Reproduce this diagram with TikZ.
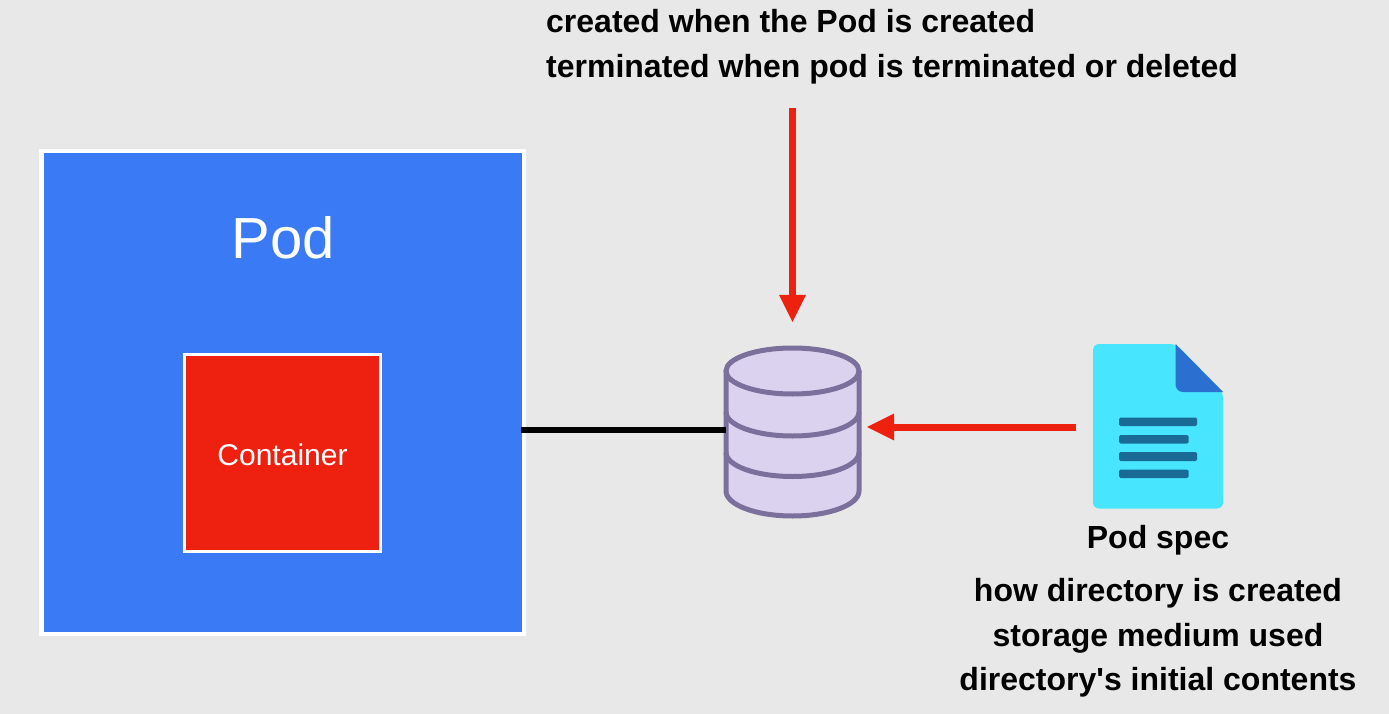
\documentclass[tikz,border=0pt]{standalone}
\usepackage{fontspec}
\setmainfont{Liberation Sans}
\newfontfamily\plainsans{Liberation Sans}
\usetikzlibrary{arrows.meta}
\definecolor{bgc}{HTML}{E8E8E8}
\definecolor{podblue}{HTML}{3B7AF5}
\definecolor{conred}{HTML}{EE2010}
\definecolor{dbfill}{HTML}{DBD2F0}
\definecolor{dbline}{HTML}{7B6F9B}
\definecolor{doccyan}{HTML}{48E5FF}
\definecolor{docfold}{HTML}{2B6FD0}
\definecolor{docline}{HTML}{1A6A96}
\tikzset{
  x=1pt,y=-1pt,
  podbox/.style={draw=white,line width=4.5pt,fill=podblue,inner sep=0pt,minimum width=482.5pt,minimum height=482.5pt},
  conbox/.style={draw=white,line width=3pt,fill=conred,inner sep=0pt,minimum width=196.5pt,minimum height=197pt,text=white,font=\fontsize{30}{34}\selectfont},
  podlabel/.style={text=white,inner sep=0pt,font=\fontsize{58}{62}\selectfont},
  caption/.style={inner sep=0pt,anchor=base west,font=\plainsans\bfseries\fontsize{32}{36}\selectfont},
  captionc/.style={inner sep=0pt,anchor=base,font=\plainsans\bfseries\fontsize{32}{36}\selectfont},
  ghost/.style={inner sep=0pt,minimum width=133pt,minimum height=170pt},
  ghostdoc/.style={inner sep=0pt,minimum width=130pt,minimum height=164pt},
  redarrow/.style={draw=conred,line width=7pt,-{Triangle[length=27pt,width=27pt,fill=conred,line width=0pt]}},
  blackline/.style={draw=black,line width=6pt},
  dbstroke/.style={draw=dbline,line width=5pt},
  docbar/.style={fill=docline,rounded corners=1.5pt},
}
\begin{document}
\begin{tikzpicture}
\useasboundingbox (0,0) rectangle (1389,714);
\fill[bgc] (0,0) rectangle (1389,714);
% Pod
\node[podbox] (pod) at (282.5,392.5) {};
\node[podlabel] (podtext) at (283,238) {Pod};
\node[conbox] (container) at (282.5,453) {\raisebox{-12pt}[0pt][0pt]{Container}};
% Cylinder
\node[ghost] (db) at (792.5,433) {};
\fill[dbfill] (726,371) -- (726,492) arc[x radius=66.5,y radius=24,start angle=180,end angle=0] -- (859,371) arc[x radius=66.5,y radius=23,start angle=0,end angle=-180] -- cycle;
\draw[dbstroke,line join=round] (726,371) -- (726,491) arc[x radius=66.5,y radius=25,start angle=180,end angle=0] -- (859,371);
\draw[dbstroke] (792.5,371) ellipse[x radius=66.5,y radius=23];
\draw[dbstroke] (726,412) arc[x radius=66.5,y radius=24,start angle=180,end angle=0];
\draw[dbstroke] (726,452.5) arc[x radius=66.5,y radius=24,start angle=180,end angle=0];
% Document
\node[ghostdoc] (doc) at (1158,426) {};
\fill[doccyan,rounded corners=6pt] (1093,344) -- (1176,344) -- (1223,392) -- (1223,508.5) -- (1093,508.5) -- cycle;
\fill[docfold] (1175.5,344) -- (1223,392) -- (1183,392) .. controls (1178.5,392) and (1175.5,388.5) .. (1175.5,384) -- cycle;
\fill[docbar] (1119,417.5) rectangle (1197,426);
\fill[docbar] (1119,435) rectangle (1188.5,443.5);
\fill[docbar] (1119,452) rectangle (1197,461);
\fill[docbar] (1119,469.5) rectangle (1188.5,478);
% Connectors
\draw[blackline] (pod.east) ++(-5,37.5) coordinate (linestart) -- (linestart -| db.west);
\coordinate (topstart) at (792.5,108);
\coordinate (sidestart) at (1076,427);
\draw[redarrow] (topstart) -- ([yshift=26]db.north);
\draw[redarrow] (sidestart) -- ([xshift=8]db.east |- sidestart);
% Texts
\node[caption] (t1) at (546,33) {created when the Pod is created};
\node[caption] (t2) at (546,78) {terminated when pod is terminated or deleted};
\node[captionc] (s0) at (1158,548) {Pod spec};
\node[captionc] (s1) at (1158,601) {how directory is created};
\node[captionc] (s2) at (1158,646) {storage medium used};
\node[captionc] (s3) at (1158,690.5) {directory's initial contents};
\end{tikzpicture}
\end{document}
